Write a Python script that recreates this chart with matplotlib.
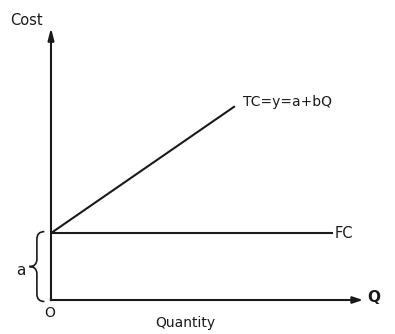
import numpy as np
import matplotlib
matplotlib.use("Agg")
import matplotlib.pyplot as plt
from matplotlib.path import Path
from matplotlib.patches import PathPatch

# fixed cost a, total cost line TC = a + bQ (diagram units)
a = 2.23
q_tc = [0, 6.13]
tc = [2.23, 6.46]
q_fc = [0, 9.4]
fc = [2.23, 2.23]
q_max = 10.4
cost_max = 9.07

fig = plt.figure(figsize=(3.95, 3.34), dpi=100)
ax = fig.add_axes([0, 0, 1, 1])
ax.set_xlim(-1.7, 11.467)
ax.set_ylim(-1.133, 10)
ax.axis("off")

ink = "#1a1a1a"
lw = 1.5
# axes with arrow heads
ax.annotate("", xy=(q_max, 0), xytext=(-0.01, 0),
            arrowprops=dict(arrowstyle="-|>,head_length=0.6,head_width=0.2", lw=lw, color=ink,
                            shrinkA=0, shrinkB=0))
ax.annotate("", xy=(0, cost_max), xytext=(0, -0.01),
            arrowprops=dict(arrowstyle="-|>,head_length=0.7,head_width=0.18", lw=lw, color=ink,
                            shrinkA=0, shrinkB=0))

ax.plot(q_tc, tc, color=ink, lw=lw, solid_capstyle="butt")
ax.plot(q_fc, fc, color=ink, lw=lw, solid_capstyle="butt")

# curly brace for a
def brace(x, y0, y1, w):
    ym = (y0 + y1) / 2
    d = 0.25
    verts = [(x + w, y1), (x, y1), (x, y1 - d),
             (x, ym + d), (x, ym), (x - w, ym),
             (x, ym), (x, ym - d),
             (x, y0 + d), (x, y0), (x + w, y0)]
    codes = [Path.MOVETO, Path.CURVE3, Path.CURVE3,
             Path.LINETO, Path.CURVE3, Path.CURVE3,
             Path.CURVE3, Path.CURVE3,
             Path.LINETO, Path.CURVE3, Path.CURVE3]
    ax.add_patch(PathPatch(Path(verts, codes), fill=False, lw=1.2, color=ink))

brace(-0.47, -0.05, a + 0.05, 0.25)

fs = 10
ax.text(-0.27, 9.33, "Cost", ha="right", va="center", fontsize=fs + 0.5, color=ink)
ax.text(-0.03, -0.42, "O", ha="center", va="center", fontsize=fs, color=ink)
ax.text(4.47, -0.75, "Quantity", ha="center", va="center", fontsize=fs, color=ink)
ax.text(10.55, 0.08, "Q", ha="left", va="center", fontsize=fs + 1, fontweight="bold", color=ink)
ax.text(9.45, fc[-1], "FC", ha="left", va="center", fontsize=fs + 0.5, color=ink)
ax.text(6.4, 6.6, "TC=y=a+bQ", ha="left", va="center", fontsize=fs, color=ink)
ax.text(-1.0, 1.0, "a", ha="center", va="center", fontsize=fs + 1, color=ink)

fig.savefig("out.png", dpi=100)
